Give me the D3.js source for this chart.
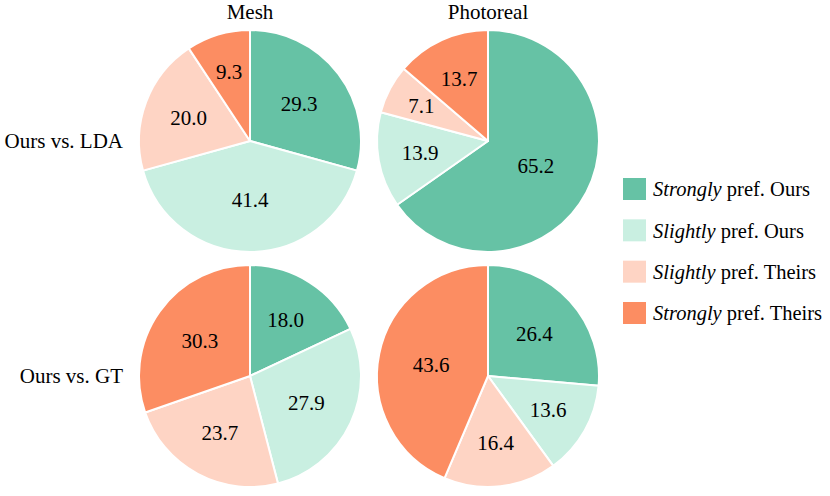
<!DOCTYPE html>
<html>
<head>
<meta charset="utf-8">
<script src="https://cdn.jsdelivr.net/npm/d3@7"></script>
<style>
  body { margin: 0; background: #fff; }
  text { font-family: "Liberation Serif", "DejaVu Serif", serif; fill: #000; }
</style>
</head>
<body>
<svg id="chart" width="830" height="496"></svg>
<script>
'use strict';

var columns = ['Mesh', 'Photoreal'];
var rows = ['Ours vs. LDA', 'Ours vs. GT'];
var categories = ['Strongly pref. Ours', 'Slightly pref. Ours', 'Slightly pref. Theirs', 'Strongly pref. Theirs'];
var legendEmph = ['Strongly', 'Slightly', 'Slightly', 'Strongly'];
var legendRest = [' pref. Ours', ' pref. Ours', ' pref. Theirs', ' pref. Theirs'];
var colors = ['#66c2a5', '#c9efe1', '#fed4c4', '#fc8d62'];

var ldaMesh = [29.3, 41.4, 20.0, 9.3];
var ldaPhotoreal = [65.2, 13.9, 7.1, 13.7];
var gtMesh = [18.0, 27.9, 23.7, 30.3];
var gtPhotoreal = [26.4, 13.6, 16.4, 43.6];

var panels = [
  [ldaMesh, ldaPhotoreal],
  [gtMesh, gtPhotoreal]
];

var svg = d3.select('#chart');

var colX = d3.scalePoint().domain(columns).range([250, 488]);
var rowY = d3.scalePoint().domain(rows).range([141, 376]);
var radius = 111;

var pie = d3.pie().sort(null).value(function (d) { return d; });
var arc = d3.arc().innerRadius(0).outerRadius(radius);

// small slices push their label further out, big ones pull it in
function labelPos(d) {
  var frac = (d.endAngle - d.startAngle) / (2 * Math.PI);
  var r = radius * (0.45 - 0.2 * Math.log10(frac));
  var a = (d.startAngle + d.endAngle) / 2;
  return [Math.sin(a) * r, -Math.cos(a) * r];
}

function translate(x, y) {
  return 'translate(' + x + ', ' + y + ')';
}

rows.forEach(function (row, ri) {
  columns.forEach(function (col, ci) {
    var g = svg.append('g')
      .attr('transform', translate(colX(col), rowY(row)));

    var slices = pie(panels[ri][ci]);

    g.selectAll('path')
      .data(slices)
      .enter()
      .append('path')
      .attr('d', arc)
      .attr('fill', function (d, i) { return colors[i]; })
      .attr('stroke', '#fff')
      .attr('stroke-width', 2)
      .attr('stroke-linejoin', 'round');

    g.selectAll('text')
      .data(slices)
      .enter()
      .append('text')
      .attr('transform', function (d) {
        var c = labelPos(d);
        return translate(c[0], c[1]);
      })
      .attr('text-anchor', 'middle')
      .attr('dy', '0.35em')
      .style('font-size', '21px')
      .text(function (d) { return d.value.toFixed(1); });
  });
});

// column titles
svg.selectAll('text.col')
  .data(columns)
  .enter()
  .append('text')
  .attr('class', 'col')
  .attr('x', function (d) { return colX(d); })
  .attr('y', 19)
  .attr('text-anchor', 'middle')
  .style('font-size', '21px')
  .text(function (d) { return d; });

// row labels
svg.selectAll('text.row')
  .data(rows)
  .enter()
  .append('text')
  .attr('class', 'row')
  .attr('x', 123)
  .attr('y', function (d) { return rowY(d); })
  .attr('dy', '0.35em')
  .attr('text-anchor', 'end')
  .style('font-size', '21px')
  .text(function (d) { return d; });

// legend
var legY = d3.scalePoint().domain(categories).range([189, 313]);
var leg = svg.append('g').attr('class', 'legend');

leg.selectAll('rect')
  .data(categories)
  .enter()
  .append('rect')
  .attr('x', 623)
  .attr('y', function (d) { return legY(d) - 11; })
  .attr('width', 23)
  .attr('height', 22)
  .attr('fill', function (d, i) { return colors[i]; });

var lt = leg.selectAll('text')
  .data(categories)
  .enter()
  .append('text')
  .attr('x', 653)
  .attr('y', function (d) { return legY(d); })
  .attr('dy', '0.35em')
  .style('font-size', '20.5px');

lt.append('tspan')
  .style('font-style', 'italic')
  .text(function (d, i) { return legendEmph[i]; });
lt.append('tspan')
  .attr('xml:space', 'preserve')
  .style('white-space', 'pre')
  .text(function (d, i) { return legendRest[i]; });
</script>
</body>
</html>
